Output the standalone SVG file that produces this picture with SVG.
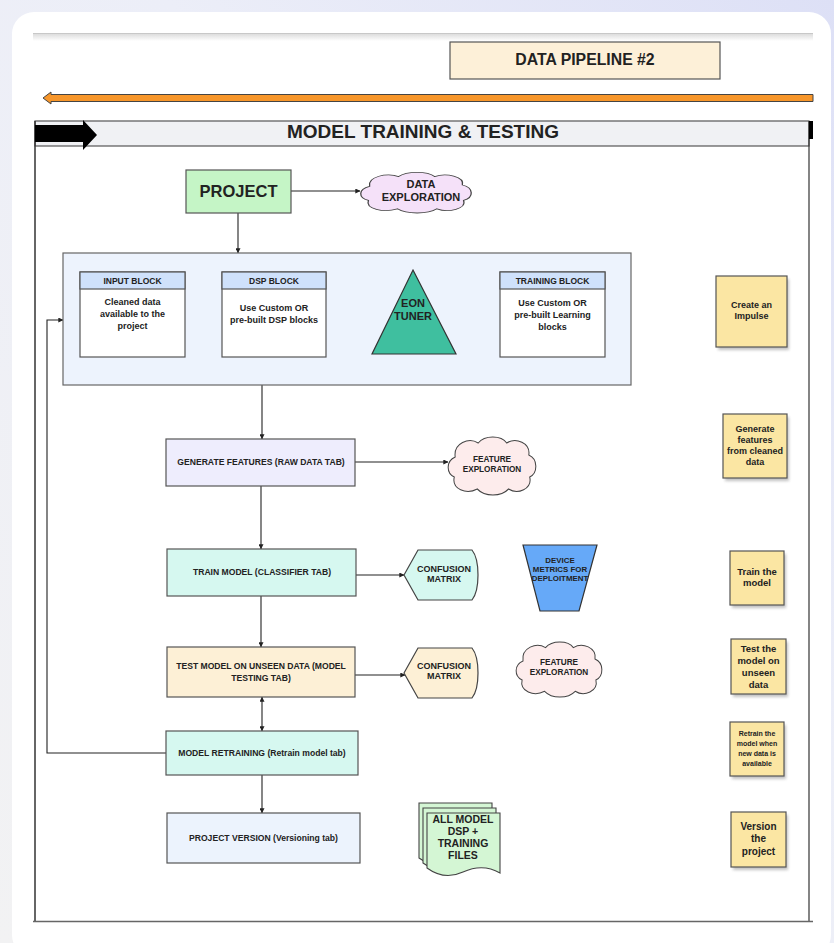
<svg xmlns="http://www.w3.org/2000/svg" width="834" height="943" viewBox="0 0 834 943">
<defs>
<linearGradient id="bg" x1="0" y1="1" x2="1" y2="0">
<stop offset="0" stop-color="#f2f2f3"/>
<stop offset="0.6" stop-color="#eceef8"/>
<stop offset="1" stop-color="#dde0f6"/>
</linearGradient>
<linearGradient id="topfade" x1="0" y1="0" x2="0" y2="1">
<stop offset="0" stop-color="#d8d8d8"/>
<stop offset="1" stop-color="#ffffff"/>
</linearGradient>
<filter id="shadow" x="-20%" y="-20%" width="150%" height="150%">
<feGaussianBlur stdDeviation="1.5"/>
</filter>
<marker id="arr" viewBox="0 0 8 8" refX="7.5" refY="4" markerWidth="5" markerHeight="5" orient="auto-start-reverse" markerUnits="userSpaceOnUse">
<path d="M0,0 L8,4 L0,8 Z" fill="#222"/>
</marker>
<path id="cloud" d="M 10 22 C 8 8, 25 2, 35 8 C 42 0, 60 0, 66 8 C 76 2, 92 8, 90 20 C 100 24, 100 38, 91 42 C 94 54, 78 60, 68 54 C 60 62, 42 62, 34 54 C 22 60, 6 54, 9 42 C 0 38, 0 26, 10 22 Z"/>
</defs>
<style>
text { font-family: "Liberation Sans", Arial, sans-serif; font-weight: bold; fill: #222; text-anchor: middle; }
.box { stroke: #555; stroke-width: 1.2; }
.conn { fill: none; stroke: #222; stroke-width: 1.1; }
.sticky { fill: #fbe6a3; stroke: #555; stroke-width: 1.2; }
.sshadow { fill: #999; opacity: 0.6; filter: url(#shadow); }
.t8 { font-size: 8.6px; }
.t9 { font-size: 9px; }
.cm { font-size: 9px; }
</style>

<rect x="0" y="0" width="834" height="943" fill="url(#bg)"/>
<rect x="12" y="12" width="819" height="945" rx="22" fill="#ffffff"/>
<rect x="33" y="33" width="780" height="8" fill="url(#topfade)"/>
<line x1="33" y1="33.5" x2="813" y2="33.5" stroke="#c8c8c8" stroke-width="1"/>

<g id="data-pipeline">
<rect x="450" y="42" width="270" height="37" fill="#fdf0d8" class="box"/>
<text x="585" y="64.5" style="font-size:15.8px">DATA PIPELINE #2</text>
</g>

<g id="orange-arrow">
<path d="M43,98 L51,92 L51,94.5 L813,94.5 L813,101.5 L51,101.5 L51,104 Z" fill="#f7962a" stroke="#444" stroke-width="1"/>
</g>

<g id="frame">
<rect x="35" y="121" width="774" height="25" fill="#f0f1f4" stroke="#555" stroke-width="1.2"/>
<line x1="35" y1="121" x2="35" y2="921" stroke="#333" stroke-width="1.5"/>
<line x1="809" y1="121" x2="809" y2="921" stroke="#333" stroke-width="1.2"/>
<line x1="33" y1="921.5" x2="813" y2="921.5" stroke="#666" stroke-width="1.5"/>
<path d="M35,125 L83,125 L83,120 L97,135 L83,150 L83,142 L35,142 Z" fill="#000"/>
<rect x="809" y="121" width="4" height="18" fill="#000"/>
<text x="423" y="138" style="font-size:19px">MODEL TRAINING &amp; TESTING</text>
</g>

<g id="connectors">
<line class="conn" x1="291" y1="191" x2="360" y2="191" marker-end="url(#arr)"/>
<line class="conn" x1="238" y1="213" x2="238" y2="253" marker-end="url(#arr)"/>
<line class="conn" x1="262" y1="385" x2="262" y2="439" marker-end="url(#arr)"/>
<line class="conn" x1="355" y1="462" x2="448" y2="462" marker-end="url(#arr)"/>
<line class="conn" x1="261" y1="486" x2="261" y2="549" marker-end="url(#arr)"/>
<line class="conn" x1="356" y1="575" x2="404" y2="575" marker-end="url(#arr)"/>
<line class="conn" x1="261" y1="596" x2="261" y2="647" marker-end="url(#arr)"/>
<line class="conn" x1="355" y1="675" x2="405" y2="675" marker-end="url(#arr)"/>
<line class="conn" x1="262" y1="697" x2="262" y2="731" marker-start="url(#arr)" marker-end="url(#arr)"/>
<line class="conn" x1="262" y1="775" x2="262" y2="813" marker-end="url(#arr)"/>
<polyline class="conn" points="166,753 47,753 47,320 63,320" marker-end="url(#arr)"/>
</g>

<g id="project">
<rect x="186" y="170" width="105" height="43" fill="#c5f5c6" class="box"/>
<text x="238.5" y="197" style="font-size:16.5px">PROJECT</text>
</g>

<g id="data-exploration">
<use href="#cloud" transform="translate(358,171) scale(1.16,0.7)" fill="#f5e1f9" stroke="#444" stroke-width="1.1" vector-effect="non-scaling-stroke"/>
<text x="421" y="188" style="font-size:11px">DATA</text>
<text x="421" y="201" style="font-size:11px">EXPLORATION</text>
</g>

<g id="impulse">
<rect x="63" y="253" width="568" height="132" fill="#edf3fd" stroke="#666" stroke-width="1.2"/>
</g>

<g id="input-block">
<rect x="80" y="272" width="105" height="85" fill="#ffffff" class="box"/>
<rect x="80" y="272" width="105" height="17" fill="#cfe1fb" class="box"/>
<text x="132.5" y="284" style="font-size:8.5px">INPUT BLOCK</text>
<text x="132.5" y="305" class="t9">Cleaned data</text>
<text x="132.5" y="317" class="t9">available to the</text>
<text x="132.5" y="329" class="t9">project</text>
</g>

<g id="dsp-block">
<rect x="222" y="272" width="104" height="85" fill="#ffffff" class="box"/>
<rect x="222" y="272" width="104" height="17" fill="#cfe1fb" class="box"/>
<text x="274" y="284" style="font-size:8.5px">DSP BLOCK</text>
<text x="274" y="311" class="t9">Use Custom OR</text>
<text x="274" y="323" class="t9">pre-built DSP blocks</text>
</g>

<g id="eon-tuner">
<polygon points="413,270 456,354 372,354" fill="#3fbf9f" stroke="#333" stroke-width="1.2"/>
<text x="413" y="307" style="font-size:11px">EON</text>
<text x="413" y="320" style="font-size:11px">TUNER</text>
</g>

<g id="training-block">
<rect x="500" y="272" width="105" height="85" fill="#ffffff" class="box"/>
<rect x="500" y="272" width="105" height="17" fill="#cfe1fb" class="box"/>
<text x="552.5" y="284" style="font-size:8.5px">TRAINING BLOCK</text>
<text x="552.5" y="306" class="t9">Use Custom OR</text>
<text x="552.5" y="318" class="t9">pre-built Learning</text>
<text x="552.5" y="330" class="t9">blocks</text>
</g>

<g id="generate-features">
<rect x="166" y="439" width="189" height="47" fill="#eeedfd" class="box"/>
<text x="261" y="465" class="t8">GENERATE FEATURES (RAW DATA TAB)</text>
</g>

<g id="feature-exploration-1">
<use href="#cloud" transform="translate(446,435) scale(0.92,1.0)" fill="#fdecec" stroke="#444" stroke-width="1.1" vector-effect="non-scaling-stroke"/>
<text x="492" y="462" style="font-size:8.2px">FEATURE</text>
<text x="492" y="472" style="font-size:8.2px">EXPLORATION</text>
</g>

<g id="train-model">
<rect x="167" y="549" width="189" height="47" fill="#d6f8f0" class="box"/>
<text x="262" y="575" class="t8">TRAIN MODEL (CLASSIFIER TAB)</text>
</g>

<g id="confusion-matrix-1">
<path d="M404,575 L418,550 L472,550 C480,560 480,590 472,600 L418,600 Z" fill="#d6f8f0" stroke="#444" stroke-width="1.2"/>
<text x="444" y="572" class="cm">CONFUSION</text>
<text x="444" y="582" class="cm">MATRIX</text>
</g>

<g id="device-metrics">
<polygon points="523,545 597,545 579,611 540,611" fill="#66a9f8" stroke="#333" stroke-width="1.2"/>
<text x="560" y="563" style="font-size:7.9px">DEVICE</text>
<text x="560" y="572" style="font-size:7.9px">METRICS FOR</text>
<text x="560" y="581" style="font-size:7.9px">DEPLOITMENT</text>
</g>

<g id="test-model">
<rect x="167" y="647" width="188" height="50" fill="#fdf0d6" class="box"/>
<text x="261" y="669" class="t8">TEST MODEL ON UNSEEN DATA (MODEL</text>
<text x="261" y="681" class="t8">TESTING TAB)</text>
</g>

<g id="confusion-matrix-2">
<path d="M404,673 L418,648 L472,648 C480,658 480,688 472,698 L418,698 Z" fill="#fdf0d6" stroke="#444" stroke-width="1.2"/>
<text x="444" y="669" class="cm">CONFUSION</text>
<text x="444" y="679" class="cm">MATRIX</text>
</g>

<g id="feature-exploration-2">
<use href="#cloud" transform="translate(514,640) scale(0.9,0.95)" fill="#fdecec" stroke="#444" stroke-width="1.1" vector-effect="non-scaling-stroke"/>
<text x="559" y="665" style="font-size:8.2px">FEATURE</text>
<text x="559" y="675" style="font-size:8.2px">EXPLORATION</text>
</g>

<g id="model-retraining">
<rect x="166" y="731" width="192" height="44" fill="#d6f8f0" class="box"/>
<text x="262" y="756" class="t8">MODEL RETRAINING (Retrain model tab)</text>
</g>

<g id="project-version">
<rect x="167" y="813" width="193" height="50" fill="#ecf3fd" class="box"/>
<text x="263.5" y="841" class="t8">PROJECT VERSION (Versioning tab)</text>
</g>

<g id="model-files">
<path d="M419,803 H492 V863 C480,856 468,856 455,862 C442,868 430,866 419,858 Z" fill="#d4f6d4" stroke="#444" stroke-width="1.1"/>
<path d="M423,808 H496 V868 C484,861 472,861 459,867 C446,873 434,871 423,863 Z" fill="#d4f6d4" stroke="#444" stroke-width="1.1"/>
<path d="M427,813 H500 V873 C488,866 476,866 463,872 C450,878 438,876 427,868 Z" fill="#d4f6d4" stroke="#444" stroke-width="1.1"/>
<text x="463" y="823" style="font-size:10.5px">ALL MODEL</text>
<text x="463" y="835" style="font-size:10.5px">DSP +</text>
<text x="463" y="847" style="font-size:10.5px">TRAINING</text>
<text x="463" y="859" style="font-size:10.5px">FILES</text>
</g>

<g id="note-impulse">
<rect x="718" y="279" width="71" height="71" class="sshadow"/>
<rect x="716" y="276" width="71" height="71" class="sticky"/>
<text x="751.5" y="308" class="t9">Create an</text>
<text x="751.5" y="319" class="t9">Impulse</text>
</g>

<g id="note-features">
<rect x="725" y="417" width="64" height="64" class="sshadow"/>
<rect x="723" y="414" width="64" height="64" class="sticky"/>
<text x="755" y="432" class="t9">Generate</text>
<text x="755" y="443" class="t9">features</text>
<text x="755" y="454" class="t9">from cleaned</text>
<text x="755" y="465" class="t9">data</text>
</g>

<g id="note-train">
<rect x="732" y="554" width="54" height="54" class="sshadow"/>
<rect x="730" y="551" width="54" height="54" class="sticky"/>
<text x="757" y="575" style="font-size:9.5px">Train the</text>
<text x="757" y="586" style="font-size:9.5px">model</text>
</g>

<g id="note-test">
<rect x="733" y="642" width="55" height="55" class="sshadow"/>
<rect x="731" y="639" width="55" height="55" class="sticky"/>
<text x="758.5" y="652" style="font-size:9.5px">Test the</text>
<text x="758.5" y="664" style="font-size:9.5px">model on</text>
<text x="758.5" y="676" style="font-size:9.5px">unseen</text>
<text x="758.5" y="688" style="font-size:9.5px">data</text>
</g>

<g id="note-retrain">
<rect x="732" y="725" width="54" height="54" class="sshadow"/>
<rect x="730" y="722" width="54" height="54" class="sticky"/>
<text x="757" y="736" style="font-size:7px">Retrain the</text>
<text x="757" y="746" style="font-size:7px">model when</text>
<text x="757" y="756" style="font-size:7px">new data is</text>
<text x="757" y="766" style="font-size:7px">available</text>
</g>

<g id="note-version">
<rect x="733" y="815" width="55" height="55" class="sshadow"/>
<rect x="731" y="812" width="55" height="55" class="sticky"/>
<text x="758.5" y="830" style="font-size:10px">Version</text>
<text x="758.5" y="842" style="font-size:10px">the</text>
<text x="758.5" y="855" style="font-size:10px">project</text>
</g>
</svg>
